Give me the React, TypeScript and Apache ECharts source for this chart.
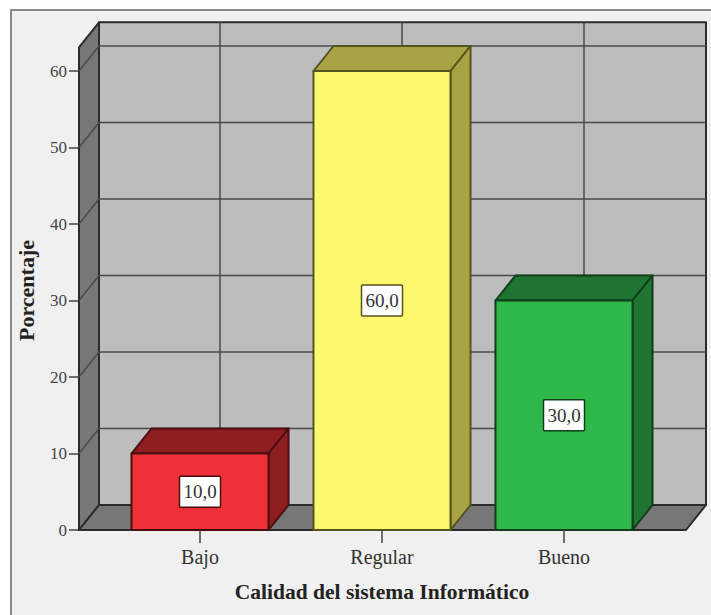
import React, { useEffect, useRef } from "react";
import * as echarts from "echarts";

const categories = ["Bajo", "Regular", "Bueno"];
const percentages = [10, 60, 30];
const faceColors = ["#F03038", "#FDF86E", "#2FB84A"];
const shadeColors = ["#8E1E20", "#A8A345", "#1E7430"];
const edgeColors = ["#4A0E10", "#55531E", "#0E3E1A"];
const yTicks = [0, 10, 20, 30, 40, 50, 60];
const yMax = 60;
const roomTopValue = 63.1;
const xAxisTitle = "Calidad del sistema Informático";
const yAxisTitle = "Porcentaje";

// Oblique offset of the 3D box depth, and the room's margin beyond the category bands.
const DEPTH_X = 20;
const DEPTH_Y = 25;
const ROOM_PAD = 30;
const BAR_RATIO = 0.753;
const SERIF = "'Liberation Serif', serif";

const renderRoom = (params: any, api: any) => {
  const cs = params.coordSys;
  const left = cs.x - ROOM_PAD;
  const right = cs.x + cs.width + ROOM_PAD + 1;
  const y0 = api.coord([0, 0])[1];
  const yTop = api.coord([0, roomTopValue])[1];
  const edge = { stroke: "#2B2B2B", lineWidth: 2, lineJoin: "round" };
  const gridLine = { stroke: "#4A4A4A", lineWidth: 1.5 };
  const children: any[] = [
    {
      type: "polygon",
      shape: {
        points: [
          [left + DEPTH_X, yTop - DEPTH_Y],
          [right + DEPTH_X, yTop - DEPTH_Y],
          [right + DEPTH_X, y0 - DEPTH_Y],
          [left + DEPTH_X, y0 - DEPTH_Y],
        ],
      },
      style: { fill: "#BDBDBD", ...edge },
    },
  ];
  categories.forEach((_, i) => {
    const x = api.coord([i, 0])[0] + DEPTH_X;
    children.push({
      type: "line",
      shape: { x1: x, y1: yTop - DEPTH_Y, x2: x, y2: y0 - DEPTH_Y },
      style: gridLine,
    });
  });
  children.push({
    type: "polygon",
    shape: {
      points: [
        [left, yTop],
        [left + DEPTH_X, yTop - DEPTH_Y],
        [left + DEPTH_X, y0 - DEPTH_Y],
        [left, y0],
      ],
    },
    style: { fill: "#777777", ...edge },
  });
  children.push({
    type: "polygon",
    shape: {
      points: [
        [left, y0],
        [left + DEPTH_X, y0 - DEPTH_Y],
        [right + DEPTH_X, y0 - DEPTH_Y],
        [right, y0],
      ],
    },
    style: { fill: "#777777", ...edge },
  });
  yTicks.slice(1).forEach((v) => {
    const y = api.coord([0, v])[1];
    children.push({
      type: "polyline",
      shape: {
        points: [
          [left, y],
          [left + DEPTH_X, y - DEPTH_Y],
          [right + DEPTH_X, y - DEPTH_Y],
        ],
      },
      style: { ...gridLine, fill: "none" },
    });
  });
  return { type: "group", children };
};

const renderBox = (params: any, api: any) => {
  const i = api.value(0);
  const v = api.value(1);
  const [cx, y1] = api.coord([i, v]);
  const y0 = api.coord([i, 0])[1];
  const w = api.size([1, 0])[0] * BAR_RATIO;
  const x0 = cx - w / 2;
  const x1 = cx + w / 2;
  const edge = { stroke: edgeColors[i], lineWidth: 2, lineJoin: "round" };
  const midY = (y0 + y1) / 2;
  const label = v.toFixed(1).replace(".", ",");
  return {
    type: "group",
    children: [
      {
        type: "polygon",
        shape: {
          points: [
            [x0, y1],
            [x0 + DEPTH_X, y1 - DEPTH_Y],
            [x1 + DEPTH_X, y1 - DEPTH_Y],
            [x1, y1],
          ],
        },
        style: { fill: shadeColors[i], ...edge },
      },
      {
        type: "polygon",
        shape: {
          points: [
            [x1, y1],
            [x1 + DEPTH_X, y1 - DEPTH_Y],
            [x1 + DEPTH_X, y0 - DEPTH_Y],
            [x1, y0],
          ],
        },
        style: { fill: shadeColors[i], ...edge },
      },
      {
        type: "rect",
        shape: { x: x0, y: y1, width: w, height: y0 - y1 },
        style: { fill: faceColors[i], ...edge },
      },
      {
        type: "rect",
        shape: { x: cx - 20.5, y: midY - 15.5, width: 41, height: 31, r: 1 },
        style: { fill: "#FFFFFF", stroke: edgeColors[i], lineWidth: 1.5 },
      },
      {
        type: "text",
        style: {
          x: cx,
          y: midY,
          text: label,
          align: "center",
          verticalAlign: "middle",
          fill: "#333333",
          font: `19px ${SERIF}`,
        },
      },
    ],
  };
};

export default function App() {
  const ref = useRef<HTMLDivElement>(null);

  useEffect(() => {
    document.body.style.margin = "0";
    document.body.style.background = "#FFFFFF";
    const chart = echarts.init(ref.current!, undefined, { renderer: "svg" });
    chart.setOption({
      animation: false,
      backgroundColor: "#FFFFFF",
      graphic: [
        {
          type: "rect",
          z: -10,
          silent: true,
          shape: { x: 11, y: 10, width: 720, height: 640 },
          style: { fill: "#F0F0F0", stroke: "#666666", lineWidth: 1.5 },
        },
      ],
      grid: { left: 109, top: 71, width: 546, height: 459 },
      xAxis: {
        type: "category",
        data: categories,
        name: xAxisTitle,
        nameLocation: "middle",
        nameGap: 51,
        nameTextStyle: { fontFamily: SERIF, fontWeight: "bold", fontSize: 21.5, color: "#222222" },
        axisLine: { show: false },
        axisTick: { show: true, alignWithLabel: true, length: 13, lineStyle: { color: "#444444", width: 1.5 } },
        axisLabel: { fontFamily: SERIF, fontSize: 20, color: "#333333", margin: 17 },
        splitLine: { show: false },
        z: 5,
      },
      yAxis: {
        type: "value",
        min: 0,
        max: yMax,
        interval: 10,
        offset: 30,
        name: yAxisTitle,
        nameLocation: "middle",
        nameGap: 42,
        nameTextStyle: { fontFamily: SERIF, fontWeight: "bold", fontSize: 22, color: "#222222", padding: [0, 0, 0, 20] },
        axisLine: { show: false },
        axisTick: { show: true, length: 10, lineStyle: { color: "#444444", width: 1.5 } },
        axisLabel: { fontFamily: SERIF, fontSize: 17, color: "#444444", margin: 12 },
        splitLine: { show: false },
      },
      series: [
        {
          type: "custom",
          z: 1,
          silent: true,
          data: [[0, 0]],
          renderItem: renderRoom,
          encode: { x: 0, y: 1 },
        },
        {
          type: "custom",
          z: 2,
          data: percentages.map((v, i) => [i, v]),
          renderItem: renderBox,
          encode: { x: 0, y: 1 },
        },
      ],
    });
    return () => chart.dispose();
  }, []);

  return <div ref={ref} style={{ width: 711, height: 615 }} />;
}
